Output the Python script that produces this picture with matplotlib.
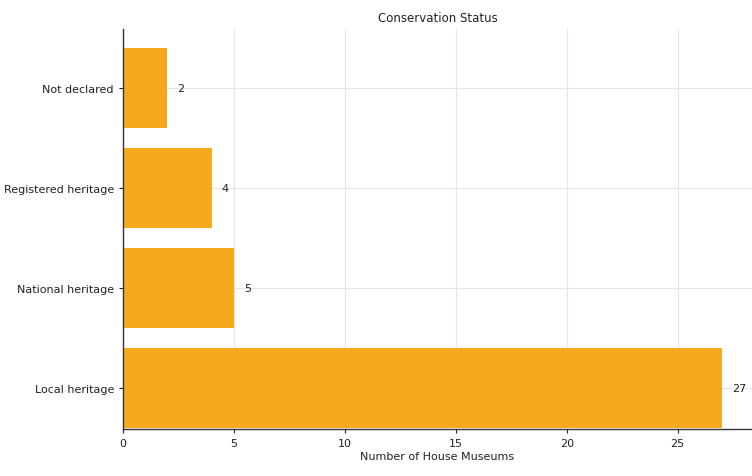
import matplotlib.pyplot as plt

categories = ["Local heritage", "National heritage", "Registered heritage", "Not declared"]
counts = [27, 5, 4, 2]

fig = plt.figure(figsize=(7.52, 4.77), dpi=100)
ax = fig.add_axes([0.1636, 0.0985, 0.8364, 0.8385])

bars = ax.barh(categories, counts, height=0.8, color='#F6A81F', zorder=2)
for bar, v in zip(bars, counts):
    ax.text(bar.get_width() + 0.45, bar.get_y() + bar.get_height() / 2, str(v),
            va='center', ha='left', fontsize=8, color='#222222')

ax.set_xlim(0, 28.35)
ax.set_ylim(-0.41, 3.59)
ax.set_xticks([0, 5, 10, 15, 20, 25])
ax.grid(True, color='#e6e6e6', linewidth=0.8, zorder=0)
ax.set_axisbelow(True)

for s in ['top', 'right']:
    ax.spines[s].set_visible(False)
for s in ['left', 'bottom']:
    ax.spines[s].set_color('#333333')
    ax.spines[s].set_linewidth(1.0)

ax.tick_params(axis='both', labelsize=8, colors='#222222', length=3)
ax.set_xlabel("Number of House Museums", fontsize=8, color='#222222', labelpad=2)
ax.set_title("Conservation Status", fontsize=8.5, color='#222222', pad=6)

fig.savefig("out.png", dpi=100)
